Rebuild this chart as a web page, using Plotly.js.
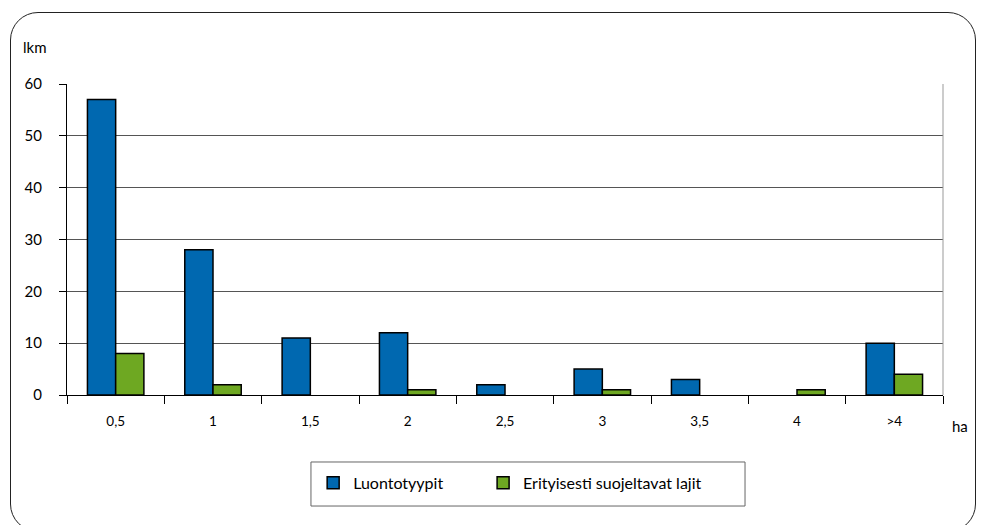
<!DOCTYPE html>
<html>
<head>
<meta charset="utf-8">
<script src="https://cdn.plot.ly/plotly-3.0.1.min.js"></script>
<style>
html,body{margin:0;padding:0;background:#fff;}
#wrap{position:relative;width:981px;height:525px;}
#chart{position:absolute;left:0;top:0;width:981px;height:525px;}
#frame{position:absolute;left:10px;top:12px;width:966px;height:520px;border:1px solid #222;border-radius:28px;pointer-events:none;box-sizing:border-box;}
</style>
</head>
<body>
<div id="wrap"><div id="chart"></div><div id="frame"></div></div>
<script>
const categories = ["0,5","1","1,5","2","2,5","3","3,5","4",">4"];
const luontotyypit = [57,28,11,12,2,5,3,0,10];
const erityisesti = [8,2,0,1,0,1,0,1,4];
const seriesNames = ["Luontotyypit","Erityisesti suojeltavat lajit"];
const FONT = "Lato, 'Open Sans', sans-serif";

// zero-count bars are not drawn in the original
const hideZero = v => (v === 0 ? null : v);

const traces = [
  {type:'bar', x:categories, y:luontotyypit.map(hideZero), name:seriesNames[0], legend:'legend',
   marker:{color:'#0068b0', line:{color:'#000', width:1.5}}},
  {type:'bar', x:categories, y:erityisesti.map(hideZero), name:seriesNames[1], legend:'legend2',
   marker:{color:'#6ea822', line:{color:'#000', width:1.5}}}
];

const legendBase = {orientation:'h', xanchor:'left', y:-0.228, yanchor:'top',
  bgcolor:'rgba(0,0,0,0)', borderwidth:0, font:{size:16, family:FONT}};

const layout = {
  width:981, height:525,
  margin:{l:67, r:38, t:84, b:130},
  paper_bgcolor:'rgba(0,0,0,0)', plot_bgcolor:'#fff',
  font:{family:FONT, color:'#000', size:14},
  barmode:'group', bargap:0.42, bargroupgap:0,
  showlegend:true,
  legend:Object.assign({}, legendBase, {x:0.281}),
  legend2:Object.assign({}, legendBase, {x:0.475}),
  xaxis:{type:'category', tickson:'boundaries', ticks:'outside', ticklen:8, tickcolor:'#000',
         showline:true, linecolor:'#000', linewidth:1, showgrid:false,
         tickfont:{size:13.5}, ticklabelstandoff:14, fixedrange:true},
  yaxis:{range:[0,60], dtick:10, ticks:'outside', ticklen:7, tickcolor:'#000',
         showline:true, linecolor:'#000', linewidth:1,
         showgrid:true, gridcolor:'#555', gridwidth:1, zeroline:false,
         tickfont:{size:15}, ticklabelstandoff:14, fixedrange:true},
  shapes:[
    {type:'line', xref:'paper', yref:'paper', x0:1, x1:1, y0:0, y1:1,
     line:{color:'#999', width:1}},
    {type:'rect', xref:'paper', yref:'paper', x0:0.2785, x1:0.774, y0:-0.2154, y1:-0.357,
     line:{color:'#666', width:1}, fillcolor:'rgba(0,0,0,0)', layer:'above'}
  ],
  annotations:[
    {text:'lkm', xref:'paper', yref:'paper', x:-0.052, y:1.12, xanchor:'left', yanchor:'middle',
     showarrow:false, font:{size:15}},
    {text:'ha', xref:'paper', yref:'paper', x:1.008, y:-0.1, xanchor:'left', yanchor:'middle',
     showarrow:false, font:{size:15}}
  ]
};

Plotly.newPlot('chart', traces, layout, {displayModeBar:false, staticPlot:true});
</script>
</body>
</html>
